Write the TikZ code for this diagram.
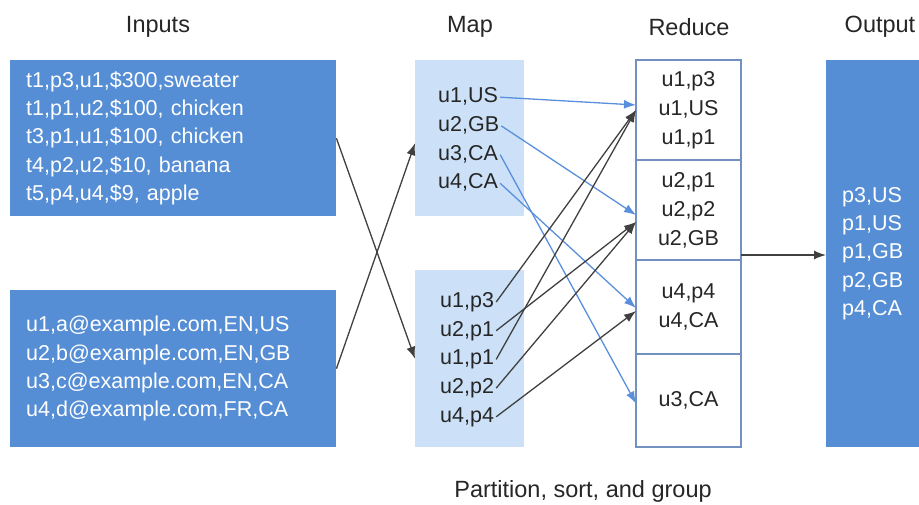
\documentclass[tikz,border=0pt]{standalone}
\usepackage{fontspec}
\setmainfont{Liberation Sans}
\usepackage{xcolor}
\usetikzlibrary{arrows.meta,positioning}
\definecolor{darkbox}{HTML}{558ED5}
\definecolor{lightbox}{HTML}{CCE1F7}
\definecolor{cellline}{HTML}{7391C0}
\definecolor{bluearrow}{HTML}{5A8FDB}
\definecolor{grayarrow}{HTML}{404040}

\begin{document}
\begin{tikzpicture}[
    x=1pt, y=-1pt,
    font=\fontsize{21.5}{28.3}\selectfont,
    ttl/.style={font=\fontsize{23.5}{28}\selectfont, text=black!85},
    inbox/.style={fill=darkbox, text=white, text width=294pt, inner xsep=16pt, inner ysep=0pt, align=left, anchor=north west},
    mapbox/.style={fill=lightbox, minimum width=109pt, inner sep=0pt, anchor=north west},
    mline/.style={inner xsep=2pt, inner ysep=0pt, text height=15.5pt, text depth=4.5pt, anchor=west, text=black!85},
    cell/.style={draw=cellline, line width=1.4pt, fill=white, minimum width=105pt, outer sep=0pt, inner sep=0pt, align=center, text=black!85, font=\fontsize{21.5}{29}\selectfont},
    outbox/.style={fill=darkbox, text=white, text width=78pt, inner xsep=16pt, inner ysep=0pt, align=left, minimum height=387pt, anchor=north west},
    ar/.style={-{Latex[length=12pt,width=9pt]}, line width=1.3pt, grayarrow},
    bar/.style={ar, bluearrow}
  ]
    \useasboundingbox (0,0) rectangle (919,504);

    % column titles
    \node[ttl] (tin) at (158,27) {Inputs};
    \node[ttl] (tmap) at (470,27) {Map};
    \node[ttl] (tred) at (689,27) {Reduce};
    \node[ttl] (tout) at (880,27) {Output};
    \node[ttl] (tpart) at (583,491) {Partition, sort, and group};

    % inputs
    \node[inbox, minimum height=156pt] (in1) at (10,60)
      {t1,p3,u1,\$300,sweater\\t1,p1,u2,\$100, chicken\\t3,p1,u1,\$100, chicken\\t4,p2,u2,\$10, banana\\t5,p4,u4,\$9, apple};
    \node[inbox, minimum height=157pt] (in2) at (10,290)
      {u1,a@example.com,EN,US\\u2,b@example.com,EN,GB\\u3,c@example.com,EN,CA\\u4,d@example.com,FR,CA};

    % map
    \node[mapbox, minimum height=156pt] (mA) at (415,60) {};
    \node[mapbox, minimum height=177pt] (mB) at (415,270) {};
    \foreach \t [count=\i] in {{u1,US},{u2,GB},{u3,CA},{u4,CA}}
      \node[mline] (a\i) at (436, 68.5+28.7*\i) {\t};
    \foreach \t [count=\i] in {{u1,p3},{u2,p1},{u1,p1},{u2,p2},{u4,p4}}
      \node[mline] (b\i) at (438, 273.3+28.7*\i) {\t};

    % reduce
    \node[cell, minimum height=100pt, anchor=north west] (r1) at (636,60) {u1,p3\\u1,US\\u1,p1};
    \node[cell, minimum height=100pt, below=0pt of r1] (r2) {u2,p1\\u2,p2\\u2,GB};
    \node[cell, minimum height=94pt, below=0pt of r2] (r3) {u4,p4\\u4,CA};
    \node[cell, minimum height=93pt, below=0pt of r3] (r4) {u3,CA};

    % output
    \node[outbox] (out) at (826,60) {p3,US\\p1,US\\p1,GB\\p2,GB\\p4,CA};

    \draw[ar] (in1.east) -- (mB.west);
    \draw[ar] (in2.east) -- ([yshift=-5pt]mA.west);

    \draw[bar] (a1.east) -- ([yshift=5pt]r1.west);
    \draw[bar] (a2.east) -- ([yshift=-5pt]r2.west);
    \draw[bar] (a3.east) -- ([yshift=-3pt]r4.west);
    \draw[bar] (a4.east) -- ([yshift=-1pt]r3.west);

    \draw[ar] (b1.east) -- (r1.west);
    \draw[ar] (b3.east) -- (r1.west);
    \draw[ar] (b2.east) -- ([yshift=-12pt]r2.west);
    \draw[ar] (b4.east) -- ([yshift=-12pt]r2.west);
    \draw[ar] (b5.east) -- ([yshift=-4pt]r3.west);

    \coordinate (rout) at ([yshift=5pt]r2.south east);
    \draw[ar] (rout) -- (rout -| out.west);
  \end{tikzpicture}
\end{document}
